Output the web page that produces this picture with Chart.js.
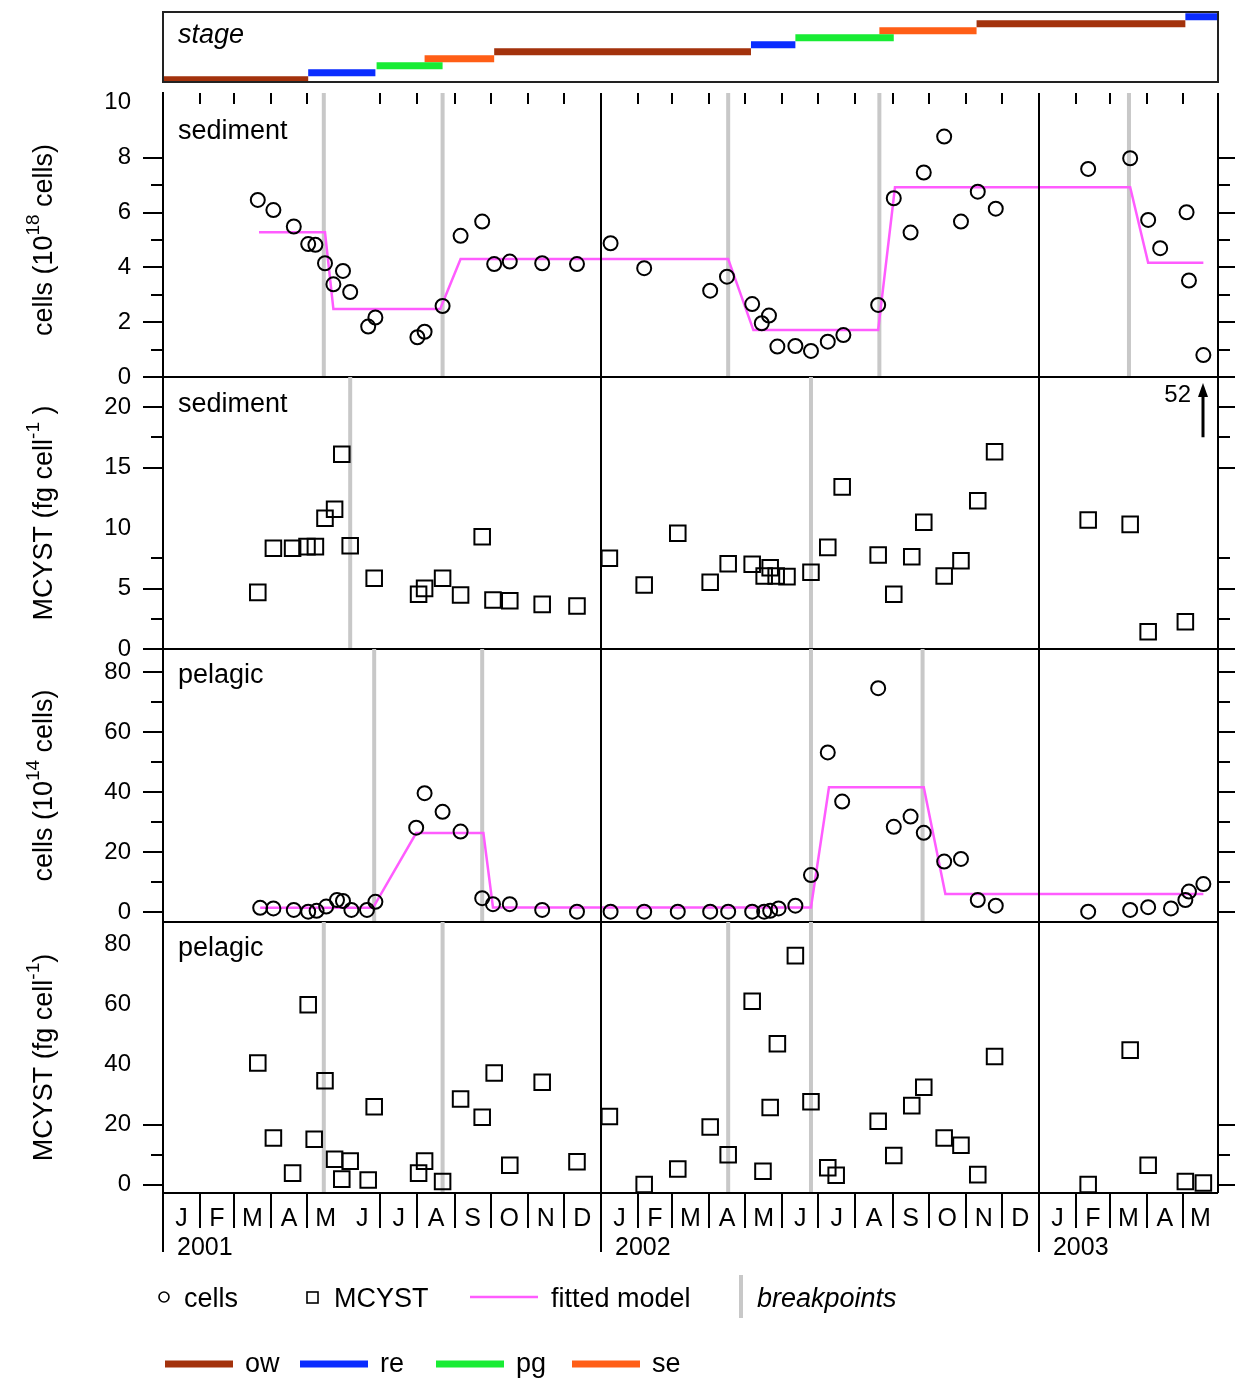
<!DOCTYPE html>
<html>
<head>
<meta charset="utf-8">
<script src="https://cdn.jsdelivr.net/npm/chart.js@4.4.0/dist/chart.umd.min.js"></script>
<style>
  body { margin: 0; background: #fff; }
  #wrap { position: relative; width: 1235px; height: 1382px; }
  #wrap canvas { position: absolute; left: 0; }
</style>
</head>
<body>
<div id="wrap">
  <canvas id="cStage" width="1235" height="100" style="top:0px"></canvas>
  <canvas id="c1" width="1235" height="334" style="top:63px"></canvas>
  <canvas id="c2" width="1235" height="317" style="top:352px"></canvas>
  <canvas id="c3" width="1235" height="318" style="top:624px"></canvas>
  <canvas id="c4" width="1235" height="485" style="top:897px"></canvas>
</div>
<script>
var FONT = '"Liberation Sans", Arial, Helvetica, sans-serif';
var X_MAX = 879.2; // days since 1 Jan 2001, end of May 2003

// calendar (days since 1 Jan 2001)
var monthStarts = [0, 31, 59, 90, 120, 151, 181, 212, 243, 273, 304, 334,
                   365, 396, 424, 455, 485, 516, 546, 577, 608, 638, 669, 699,
                   730, 761, 789, 820, 850, 881];
var monthLetters = ['J','F','M','A','M','J','J','A','S','O','N','D',
                    'J','F','M','A','M','J','J','A','S','O','N','D',
                    'J','F','M','A','M'];
var yearStarts = [0, 365, 730];
var yearLabels = ['2001', '2002', '2003'];
var skipMonthTicks = [151];

// stage bar
var stageCodes = ['ow', 're', 'pg', 'se'];
var stageColors = ['#a3320c', '#0a2cff', '#18ec34', '#ff5e16'];
var stageStart = [0, 121, 178, 218, 276, 490, 527, 597, 678, 852];
var stageEnd   = [121, 177, 233, 276, 490, 527, 609, 678, 852, 880];
var stageOf    = ['ow', 're', 'pg', 'se', 'ow', 're', 'pg', 'se', 'ow', 're'];

// sediment cells (10^18 cells)
var sedCellDays = [79, 92, 109, 121, 127, 135, 142, 150, 156, 171, 177, 212, 218, 233, 248, 266, 276, 289, 316, 345,
                   373, 401, 456, 470, 491, 499, 505, 512, 527, 540, 554, 567, 596, 609, 623, 634, 651, 665, 679, 694,
                   771, 806, 821, 831, 853, 855, 867];
var sedCells = [6.46, 6.09, 5.49, 4.85, 4.82, 4.15, 3.38, 3.87, 3.10, 1.84, 2.17, 1.45, 1.65, 2.59, 5.15, 5.67, 4.12, 4.21, 4.15, 4.12,
                4.88, 3.97, 3.15, 3.66, 2.66, 1.96, 2.24, 1.11, 1.13, 0.95, 1.29, 1.53, 2.63, 6.52, 5.27, 7.46, 8.77, 5.67, 6.76, 6.14,
                7.59, 7.98, 5.73, 4.70, 6.01, 3.52, 0.80];
var sedFitDays = [80, 135, 142, 231, 248, 471, 492, 596, 610, 806, 821, 867];
var sedFit = [5.28, 5.28, 2.48, 2.48, 4.3, 4.3, 1.71, 1.71, 6.92, 6.92, 4.17, 4.17];
var sedCellBreaks = [134, 233, 471, 597, 805];
var sedCellLabels = [0, 2, 4, 6, 8, 10];
var sedCellMajorL = [0, 2, 4, 6, 8];
var sedCellMinorL = [1, 3, 5, 7];
var sedCellTicksR = [0, 1, 2, 3, 4, 5, 6, 7, 8];

// sediment MCYST (fg cell-1)
var sedToxDays = [79, 92, 108, 120, 127, 135, 143, 149, 156, 176, 213, 218, 233, 248, 266, 275, 289, 316, 345,
                  372, 401, 429, 456, 471, 491, 501, 506, 511, 520, 540, 554, 566, 596, 609, 624, 634, 651, 665, 679, 693,
                  771, 806, 821, 852, 867];
var sedTox = [4.68, 8.32, 8.32, 8.46, 8.46, 10.8, 11.55, 16.1, 8.54, 5.84, 4.52, 5.01, 5.84, 4.46, 9.28, 4.05, 3.99, 3.69, 3.55,
              7.50, 5.29, 9.56, 5.51, 7.05, 7.0, 6.03, 6.72, 6.03, 5.98, 6.34, 8.4, 13.4, 7.77, 4.52, 7.63, 10.47, 6.03, 7.3, 12.26, 16.3,
              10.66, 10.3, 1.43, 2.26, 52];
var sedToxBreaks = [156, 540];
var sedToxLabels = [0, 5, 10, 15, 20];
var sedToxMajorL = [0, 5, 15, 20];
var sedToxMinorL = [2.5, 7.5, 17.5];
var sedToxTicksR = [0, 2.5, 5, 7.5, 15, 17.5, 20];

// pelagic cells (10^14 cells)
var pelCellDays = [81, 92, 109, 121, 128, 136, 145, 150, 157, 170, 177, 211, 218, 233, 248, 266, 275, 289, 316, 345,
                   373, 401, 429, 456, 471, 491, 501, 506, 513, 527, 540, 554, 566, 596, 609, 623, 634, 651, 665, 679, 694,
                   771, 806, 821, 840, 852, 855, 867];
var pelCells = [1.4, 1.2, 0.7, 0.1, 0.4, 1.8, 4.0, 3.7, 0.7, 0.7, 3.4, 28.1, 39.6, 33.4, 26.8, 4.6, 2.6, 2.6, 0.7, 0.1,
                0.1, 0.1, 0.1, 0.1, 0.1, 0.1, 0.1, 0.4, 1.2, 2.1, 12.3, 53.2, 36.8, 74.6, 28.4, 31.8, 26.4, 16.8, 17.7, 4.0, 2.1,
                0.1, 0.7, 1.6, 1.2, 4.0, 6.8, 9.3];
var pelFitDays = [81, 175, 211, 267, 275, 540, 555, 634, 652, 867];
var pelFit = [1.4, 1.4, 26.3, 26.3, 1.5, 1.5, 41.6, 41.6, 6.0, 6.0];
var pelCellBreaks = [176, 266, 540, 633];
var pelCellLabels = [0, 20, 40, 60, 80];
var pelCellMajorL = [0, 20, 40, 60, 80];
var pelCellMinorL = [10, 30, 50, 70];
var pelCellTicksR = [0, 10, 20, 30, 40, 50, 60, 70, 80];

// pelagic MCYST (fg cell-1)
var pelToxDays = [79, 92, 108, 121, 126, 135, 143, 149, 156, 171, 176, 213, 218, 233, 248, 266, 276, 289, 316, 345,
                  372, 401, 429, 456, 471, 491, 500, 506, 512, 527, 540, 554, 561, 596, 609, 624, 634, 651, 665, 679, 693,
                  771, 806, 821, 852, 867];
var pelTox = [40.5, 15.5, 3.8, 59.9, 15.1, 34.6, 8.4, 1.8, 7.8, 1.5, 25.9, 3.8, 7.8, 1.0, 28.5, 22.4, 37.2, 6.4, 34.1, 7.6,
              22.7, 0, 5.2, 19.2, 9.9, 61.1, 4.4, 25.7, 46.9, 76.3, 27.6, 5.6, 3.1, 21.1, 9.7, 26.3, 32.4, 15.5, 13.1, 3.3, 42.7,
              0, 44.8, 6.4, 1.0, 0.5];
var pelToxBreaks = [134, 233, 471, 540];
var pelToxLabels = [0, 20, 40, 60, 80];
var pelToxMajorL = [0, 20];
var pelToxMinorL = [10];
var pelToxTicksR = [0, 10, 20];

function pts(xs, ys) {
  return xs.map(function (x, i) { return { x: x, y: ys[i] }; });
}

function breakData(br, lo, hi) {
  var out = [];
  br.forEach(function (b) {
    out.push({ x: b, y: lo }, { x: b, y: hi }, { x: b, y: null });
  });
  return out;
}

function line(ctx, x1, y1, x2, y2) {
  ctx.beginPath();
  ctx.moveTo(x1, y1);
  ctx.lineTo(x2, y2);
  ctx.stroke();
}

function drawTitle(ctx, parts, bx, cy) {
  ctx.save();
  ctx.translate(bx, cy);
  ctx.rotate(-Math.PI / 2);
  ctx.textAlign = 'left';
  ctx.textBaseline = 'alphabetic';
  var w = 0;
  parts.forEach(function (p) {
    ctx.font = (p.sup ? '19px ' : '27px ') + FONT;
    w += ctx.measureText(p.t).width;
  });
  var x = -w / 2;
  parts.forEach(function (p) {
    ctx.font = (p.sup ? '19px ' : '27px ') + FONT;
    ctx.fillText(p.t, x, p.sup ? -13 : 0);
    x += ctx.measureText(p.t).width;
  });
  ctx.restore();
}

function drawLegend(ctx, yb) {
  var r1 = yb + 104, r2 = yb + 171;
  ctx.fillStyle = '#000';
  ctx.strokeStyle = '#000';
  ctx.textAlign = 'left';
  ctx.textBaseline = 'alphabetic';
  ctx.font = '27px ' + FONT;
  ctx.lineWidth = 1.6;
  ctx.beginPath();
  ctx.arc(164, r1, 5, 0, Math.PI * 2);
  ctx.stroke();
  ctx.fillText('cells', 184, r1 + 10);
  ctx.strokeRect(307, r1 - 5, 11, 11);
  ctx.fillText('MCYST', 334, r1 + 10);
  ctx.strokeStyle = '#ff5cff';
  ctx.lineWidth = 2.5;
  line(ctx, 470, r1, 538, r1);
  ctx.fillText('fitted model', 551, r1 + 10);
  ctx.strokeStyle = '#c8c8c8';
  ctx.lineWidth = 4;
  line(ctx, 741, r1 - 22, 741, r1 + 21);
  ctx.font = 'italic 27px ' + FONT;
  ctx.fillText('breakpoints', 757, r1 + 10);

  ctx.font = '27px ' + FONT;
  ctx.lineWidth = 7;
  var lx = [165, 300, 436, 572];
  stageCodes.forEach(function (code, i) {
    ctx.strokeStyle = stageColors[i];
    line(ctx, lx[i], r2, lx[i] + 68, r2);
    ctx.fillText(code, lx[i] + 80, r2 + 8);
  });
}

function panelDecor(p) {
  return {
    id: 'decor_' + p.id,
    afterDraw: function (chart) {
      var ctx = chart.ctx, a = chart.chartArea;
      var xs = chart.scales.x, ys = chart.scales.y;
      ctx.save();
      ctx.strokeStyle = '#000';
      ctx.lineWidth = 2;
      line(ctx, a.right, a.top, a.right, a.bottom);
      yearStarts.slice(1).forEach(function (d) {
        var x = Math.round(xs.getPixelForValue(d));
        line(ctx, x, a.top, x, a.bottom);
      });
      line(ctx, a.left, a.bottom, a.right, a.bottom);

      p.majorL.forEach(function (v) {
        var y = Math.round(ys.getPixelForValue(v));
        line(ctx, a.left - 20, y, a.left, y);
      });
      p.minorL.forEach(function (v) {
        var y = Math.round(ys.getPixelForValue(v));
        line(ctx, a.left - 12, y, a.left, y);
      });
      p.ticksR.forEach(function (v) {
        var y = Math.round(ys.getPixelForValue(v));
        var len = p.labels.indexOf(v) >= 0 ? 17 : 12;
        line(ctx, a.right, y, a.right + len, y);
      });

      if (p.monthTicks) {
        monthStarts.forEach(function (d) {
          if (d <= 0 || d >= X_MAX || yearStarts.indexOf(d) >= 0 || skipMonthTicks.indexOf(d) >= 0) return;
          var x = Math.round(xs.getPixelForValue(d));
          line(ctx, x, a.top, x, a.top + 11);
        });
      }

      ctx.fillStyle = '#000';
      ctx.font = '27px ' + FONT;
      ctx.textAlign = 'left';
      ctx.textBaseline = 'alphabetic';
      ctx.fillText(p.name, a.left + 15, a.top + p.nameY);

      drawTitle(ctx, p.title, 52, (a.top + a.bottom) / 2 + (p.titleShift || 0));

      // values above the scale: arrow with the value
      p.vals.forEach(function (v, i) {
        if (v <= p.max) return;
        var x = Math.round(xs.getPixelForValue(p.days[i]));
        var y0 = ys.getPixelForValue(17.5), yTop = a.top + 6;
        ctx.lineWidth = 3;
        line(ctx, x, y0, x, yTop + 10);
        ctx.beginPath();
        ctx.moveTo(x, yTop);
        ctx.lineTo(x - 5, yTop + 14);
        ctx.lineTo(x + 5, yTop + 14);
        ctx.closePath();
        ctx.fill();
        ctx.font = '24px ' + FONT;
        ctx.textAlign = 'right';
        ctx.fillText(String(v), x - 12, a.top + 25);
        ctx.textAlign = 'left';
      });

      if (p.bottomAxis) {
        var yb = a.bottom;
        ctx.lineWidth = 2;
        ctx.font = '25px ' + FONT;
        ctx.textAlign = 'center';
        for (var i = 0; i < monthLetters.length; i++) {
          var s = monthStarts[i], e = Math.min(monthStarts[i + 1], X_MAX);
          var xm = xs.getPixelForValue((s + e) / 2);
          ctx.fillText(monthLetters[i], xm, yb + 33);
          var xsPix = Math.round(xs.getPixelForValue(s));
          if (yearStarts.indexOf(s) >= 0) {
            line(ctx, xsPix, yb, xsPix, yb + 59);
          } else if (skipMonthTicks.indexOf(s) < 0) {
            line(ctx, xsPix, yb, xsPix, yb + 35);
          }
        }
        ctx.textAlign = 'left';
        yearStarts.forEach(function (d, k) {
          ctx.fillText(yearLabels[k], xs.getPixelForValue(d) + 14, yb + 62);
        });
        drawLegend(ctx, yb);
      }
      ctx.restore();
    }
  };
}

function panelChart(p) {
  var ds = [{
    data: pts(p.days, p.vals),
    pointStyle: p.marker,
    pointRadius: p.marker === 'circle' ? 7 : 11,
    borderColor: '#000',
    backgroundColor: 'rgba(0,0,0,0)',
    borderWidth: 2,
    order: 1
  }];
  if (p.fitDays) {
    ds.push({
      data: pts(p.fitDays, p.fitVals),
      showLine: true,
      borderColor: '#ff5cff',
      borderWidth: 2.5,
      pointRadius: 0,
      order: 2
    });
  }
  ds.push({
    data: breakData(p.breaks, p.min, p.max),
    showLine: true,
    borderColor: '#c8c8c8',
    borderWidth: 4,
    pointRadius: 0,
    order: 3
  });
  return new Chart(document.getElementById(p.id), {
    type: 'scatter',
    data: { datasets: ds },
    options: {
      responsive: false,
      animation: false,
      events: [],
      layout: { padding: { left: 0, right: 17, top: p.padT, bottom: p.padB } },
      plugins: { legend: { display: false }, tooltip: { enabled: false } },
      scales: {
        x: { type: 'linear', min: 0, max: X_MAX, display: false },
        y: {
          type: 'linear',
          min: p.min,
          max: p.max,
          afterBuildTicks: function (s) {
            s.ticks = p.labels.map(function (v) { return { value: v }; });
          },
          afterFit: function (s) { s.width = 163; },
          grid: { display: false, drawTicks: true, tickLength: 32 },
          border: { display: true, color: '#000', width: 2 },
          ticks: {
            color: '#000',
            padding: 0,
            font: { family: FONT, size: 24 },
            callback: function (v) { return String(v); }
          }
        }
      }
    },
    plugins: [panelDecor(p)]
  });
}

// stage panel
var stageSets = stageCodes.map(function (code, ci) {
  var data = [];
  stageOf.forEach(function (s, i) {
    if (s !== code) return;
    data.push({ x: stageStart[i], y: i }, { x: stageEnd[i], y: i }, { x: stageEnd[i], y: null });
  });
  return {
    data: data,
    showLine: true,
    borderColor: stageColors[ci],
    borderWidth: 7,
    borderCapStyle: 'butt',
    pointRadius: 0
  };
});

new Chart(document.getElementById('cStage'), {
  type: 'scatter',
  data: { datasets: stageSets },
  options: {
    responsive: false,
    animation: false,
    events: [],
    layout: { padding: { left: 163, right: 17, top: 12, bottom: 18 } },
    plugins: { legend: { display: false }, tooltip: { enabled: false } },
    scales: {
      x: { type: 'linear', min: 0, max: X_MAX, display: false },
      y: { type: 'linear', min: -0.314, max: 9.686, display: false }
    }
  },
  plugins: [{
    id: 'stageBox',
    afterDraw: function (chart) {
      var ctx = chart.ctx, a = chart.chartArea;
      ctx.save();
      ctx.strokeStyle = '#222';
      ctx.lineWidth = 2;
      ctx.strokeRect(a.left, a.top, a.right - a.left, a.bottom - a.top);
      ctx.fillStyle = '#000';
      ctx.font = 'italic 27px ' + FONT;
      ctx.fillText('stage', a.left + 15, a.top + 31);
      ctx.restore();
    }
  }]
});

panelChart({
  id: 'c1', name: 'sediment', nameY: 46, marker: 'circle',
  days: sedCellDays, vals: sedCells, fitDays: sedFitDays, fitVals: sedFit, breaks: sedCellBreaks,
  min: 0, max: 10.36, labels: sedCellLabels, majorL: sedCellMajorL, minorL: sedCellMinorL, ticksR: sedCellTicksR,
  title: [{ t: 'cells (10' }, { t: '18', sup: true }, { t: ' cells)' }], titleShift: 5,
  padT: 30, padB: 20, monthTicks: true
});
panelChart({
  id: 'c2', name: 'sediment', nameY: 35, marker: 'rect',
  days: sedToxDays, vals: sedTox, breaks: sedToxBreaks,
  min: 0, max: 22.48, labels: sedToxLabels, majorL: sedToxMajorL, minorL: sedToxMinorL, ticksR: sedToxTicksR,
  title: [{ t: 'MCYST (fg cell' }, { t: '-1', sup: true }, { t: ' )' }],
  padT: 25, padB: 20
});
panelChart({
  id: 'c3', name: 'pelagic', nameY: 34, marker: 'circle',
  days: pelCellDays, vals: pelCells, fitDays: pelFitDays, fitVals: pelFit, breaks: pelCellBreaks,
  min: -3.33, max: 87.67, labels: pelCellLabels, majorL: pelCellMajorL, minorL: pelCellMinorL, ticksR: pelCellTicksR,
  title: [{ t: 'cells (10' }, { t: '14', sup: true }, { t: ' cells)' }],
  padT: 25, padB: 20
});
panelChart({
  id: 'c4', name: 'pelagic', nameY: 34, marker: 'rect',
  days: pelToxDays, vals: pelTox, breaks: pelToxBreaks,
  min: -2.83, max: 87.5, labels: pelToxLabels, majorL: pelToxMajorL, minorL: pelToxMinorL, ticksR: pelToxTicksR,
  title: [{ t: 'MCYST (fg cell' }, { t: '-1', sup: true }, { t: ')' }],
  padT: 25, padB: 189, bottomAxis: true
});
</script>
</body>
</html>
